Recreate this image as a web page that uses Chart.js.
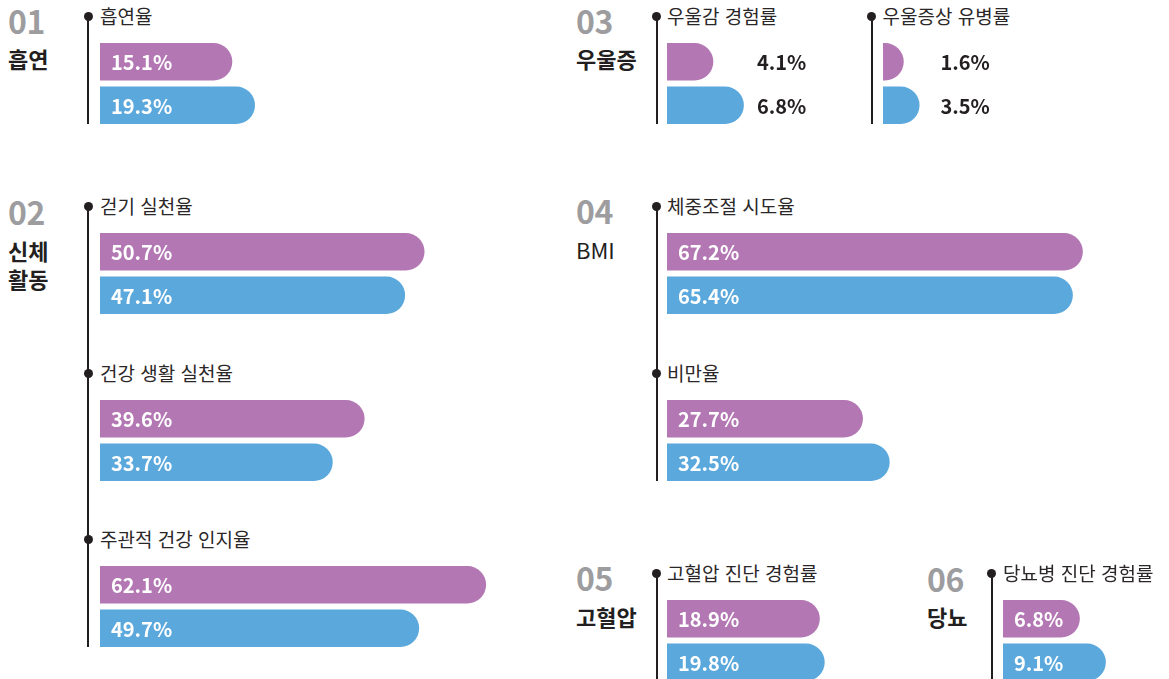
<!DOCTYPE html>
<html lang="ko">
<head>
<meta charset="utf-8">
<script src="https://cdn.jsdelivr.net/npm/chart.js@4.4.1/dist/chart.umd.min.js"></script>
<style>
  html, body { margin: 0; padding: 0; background: #fff; }
  body { width: 1169px; height: 679px; position: relative; overflow: hidden;
         font-family: "Noto Sans CJK KR", "Noto Sans", sans-serif; color: #231f20; }
  .t { position: absolute; white-space: nowrap; line-height: 1; }
  .num { font-weight: 700; color: #9d9d9f; letter-spacing: -0.5px; }
  .title { font-weight: 700; }
  .label { color: #2b2728; }
  .vline { position: absolute; width: 2px; background: #231f20; }
  .dot { position: absolute; width: 9px; height: 9px; border-radius: 50%; background: #231f20; }
  canvas { position: absolute; }
</style>
</head>
<body>
<script>
// 데이터
const sectionNumbers = ['01', '02', '03', '04', '05', '06'];
const sectionTitles = [['흡연'], ['신체', '활동'], ['우울증'], ['BMI'], ['고혈압'], ['당뇨']];
const metricLabels = ['흡연율', '걷기 실천율', '건강 생활 실천율', '주관적 건강 인지율',
  '우울감 경험률', '우울증상 유병률', '체중조절 시도율', '비만율',
  '고혈압 진단 경험률', '당뇨병 진단 경험률'];
const purpleValues = [15.1, 50.7, 39.6, 62.1, 4.1, 1.6, 67.2, 27.7, 18.9, 6.8];
const blueValues = [19.3, 47.1, 33.7, 49.7, 6.8, 3.5, 65.4, 32.5, 19.8, 9.1];
const barColors = ['#b378b3', '#5ba8dc'];

// 배치 (좌표, 크기)
const sectionPos = [
  { x: 8, numY: 22, titleY: 59 },
  { x: 8, numY: 213, titleY: 251 },
  { x: 576, numY: 22, titleY: 59 },
  { x: 576, numY: 212, titleY: 250, light: true },
  { x: 576, numY: 579, titleY: 617 },
  { x: 927, numY: 580, titleY: 617 }
];
// 값 축: 최소값, 1%당 픽셀, 캔버스 폭
const axes = {
  a: { min: -9.4, k: 5.4, w: 400 },
  b: { min: -7.5, k: 5.567, w: 430 },
  c: { min: 0, k: 11.3, w: 160 },
  d: { min: -0.9, k: 8.3, w: 110 }
};
const groupPos = [
  { x: 100, top: 43, axis: 'a' },
  { x: 100, top: 233, axis: 'a' },
  { x: 100, top: 400, axis: 'a' },
  { x: 100, top: 566, axis: 'a' },
  { x: 667, top: 43, axis: 'c', outside: 90 },
  { x: 882.5, top: 43, axis: 'd', outside: 57.5 },
  { x: 667, top: 233, axis: 'b' },
  { x: 667, top: 400, axis: 'b' },
  { x: 667, top: 600, axis: 'a' },
  { x: 1003, top: 600, axis: 'c' }
];
const lines = [
  { x: 88, y1: 17, y2: 124 }, { x: 88, y1: 207, y2: 647 },
  { x: 656.5, y1: 17, y2: 124 }, { x: 871.7, y1: 17, y2: 124 },
  { x: 656.5, y1: 207, y2: 481 },
  { x: 656.5, y1: 576, y2: 690 }, { x: 991.7, y1: 576, y2: 690 }
];
const barH = 37.5, barGap = 6, dotOffset = 26.5;

function addText(cls, text, x, cy, size) {
  const d = document.createElement('div');
  d.className = 't ' + cls;
  d.textContent = text;
  d.style.fontSize = size + 'px';
  d.style.left = x + 'px';
  d.style.top = (cy - size * 0.55) + 'px';
  document.body.appendChild(d);
  return d;
}

sectionNumbers.forEach((n, i) => {
  const p = sectionPos[i];
  addText('num', n, p.x, p.numY, 32);
  sectionTitles[i].forEach((line, j) => {
    const d = addText('title', line, p.x, p.titleY + j * 28.5, 22);
    if (p.light) d.style.fontWeight = 400;
  });
});

lines.forEach(l => {
  const d = document.createElement('div');
  d.className = 'vline';
  d.style.left = (l.x - 1) + 'px';
  d.style.top = l.y1 + 'px';
  d.style.height = (l.y2 - l.y1) + 'px';
  document.body.appendChild(d);
});

// 막대: 오른쪽 끝을 반원으로 그리고 값 표시
const pillPlugin = {
  id: 'pills',
  beforeDatasetsDraw(chart, args, opts) {
    const ctx = chart.ctx;
    const ds = chart.data.datasets[0];
    chart.getDatasetMeta(0).data.forEach((bar, i) => {
      const { x, y, base, height } = bar.getProps(['x', 'y', 'base', 'height'], true);
      const r = height / 2, left = Math.min(base, x), right = Math.max(base, x);
      ctx.save();
      ctx.fillStyle = ds.backgroundColor[i];
      ctx.beginPath();
      ctx.moveTo(left, y - r);
      if (right - left >= r) {
        ctx.lineTo(right - r, y - r);
        ctx.arc(right - r, y, r, -Math.PI / 2, Math.PI / 2);
      } else {
        ctx.ellipse(left, y, right - left, r, 0, -Math.PI / 2, Math.PI / 2);
      }
      ctx.lineTo(left, y + r);
      ctx.closePath();
      ctx.fill();

      ctx.font = 'bold 20px "Noto Sans CJK KR", "Noto Sans", sans-serif';
      ctx.textBaseline = 'middle';
      ctx.textAlign = 'left';
      const txt = ds.data[i].toFixed(1) + '%';
      if (opts.outside) {
        ctx.fillStyle = '#231f20';
        ctx.fillText(txt, left + opts.outside, y + 1);
      } else {
        ctx.fillStyle = '#ffffff';
        ctx.fillText(txt, left + 11, y + 1);
      }
      ctx.restore();
    });
    return false;
  }
};

metricLabels.forEach((name, i) => {
  const g = groupPos[i];
  const ax = axes[g.axis];
  const lineX = lines.reduce((best, l) => Math.abs(l.x - g.x) < Math.abs(best - g.x) && l.x < g.x ? l.x : best, -1000);
  const dotY = g.top - dotOffset;

  const dot = document.createElement('div');
  dot.className = 'dot';
  dot.style.left = (lineX - 4.5) + 'px';
  dot.style.top = (dotY - 4.5) + 'px';
  document.body.appendChild(dot);
  addText('label', name, g.x, dotY, 19);

  const canvas = document.createElement('canvas');
  const slot = barH + barGap;
  canvas.width = ax.w;
  canvas.height = Math.round(slot * 2);
  canvas.style.left = g.x + 'px';
  canvas.style.top = Math.round(g.top - barGap / 2) + 'px';
  document.body.appendChild(canvas);

  new Chart(canvas.getContext('2d'), {
    type: 'bar',
    data: {
      labels: [name, name],
      datasets: [{
        data: [purpleValues[i], blueValues[i]],
        backgroundColor: barColors,
        base: ax.min,
        categoryPercentage: 1,
        barPercentage: barH / slot
      }]
    },
    options: {
      indexAxis: 'y',
      responsive: false,
      animation: false,
      events: [],
      layout: { padding: 0 },
      scales: {
        x: { display: false, min: ax.min, max: ax.min + ax.w / ax.k },
        y: { display: false }
      },
      plugins: {
        legend: { display: false },
        tooltip: { enabled: false },
        pills: { outside: g.outside || 0 }
      }
    },
    plugins: [pillPlugin]
  });
});
</script>
</body>
</html>
